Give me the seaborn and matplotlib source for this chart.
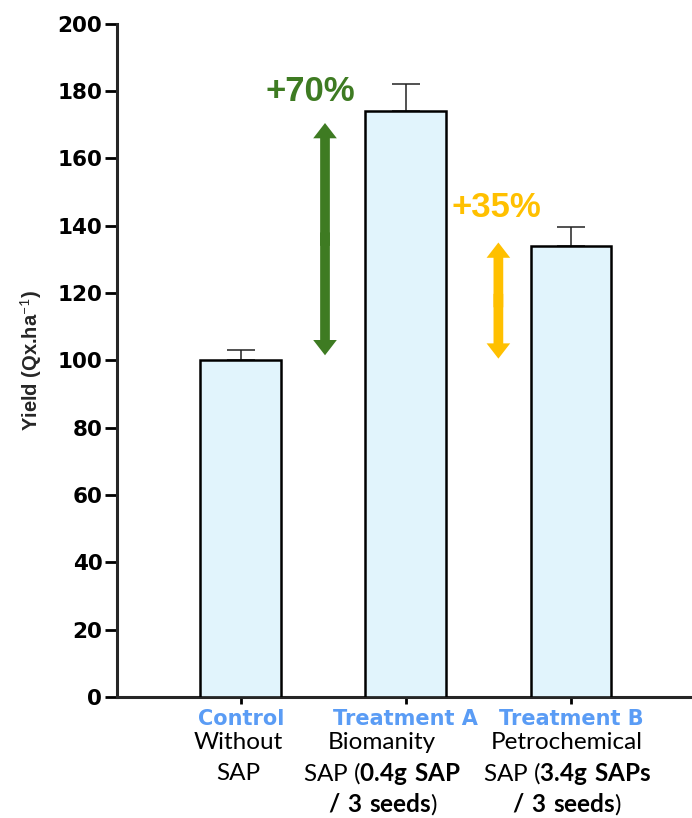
import matplotlib
matplotlib.use("Agg")
import matplotlib.pyplot as plt
from matplotlib.patches import FancyArrowPatch
import pandas as pd
import seaborn as sns

# values
groups = ["Control", "Treatment A", "Treatment B"]
yields = [100, 174, 134]
errors = [3, 8, 5.5]
line1 = ["Without", "Biomanity", "Petrochemical"]
line2 = ["SAP", r"SAP ($\mathbf{0.4g\ SAP}$", r"SAP ($\mathbf{3.4g\ SAPs}$"]
line3 = ["", r"$\mathbf{/\ 3\ seeds}$)", r"$\mathbf{/\ 3\ seeds}$)"]
yticks = [0, 20, 40, 60, 80, 100, 120, 140, 160, 180, 200]

# +x% arrows: (x, y bottom, y top, label, label x, label y, colour)
gains = [
    (0.51, 101.5, 170.5, "+70%", 0.42, 180, "#3E7B22"),
    (1.56, 100.5, 135.0, "+35%", 1.55, 145.5, "#FFC000"),
]

sns.set_theme(style="ticks")
plt.rcParams["mathtext.fontset"] = "custom"
plt.rcParams["mathtext.rm"] = "Lato"
plt.rcParams["mathtext.bf"] = "Lato:bold"

df = pd.DataFrame({"group": groups, "yield": yields})

fig = plt.figure(figsize=(6.92, 8.18), dpi=100)
ax = fig.add_axes([0.169, 0.148, 0.828, 0.823])

sns.barplot(data=df, x="group", y="yield", order=groups, width=0.49,
            color="#E1F4FC", saturation=1, edgecolor="black", linewidth=1.8,
            errorbar=None, ax=ax, zorder=3)
ax.errorbar(range(len(groups)), yields, yerr=[[0] * len(groups), errors],
            fmt="none", ecolor="#222222", elinewidth=1.1, capsize=10,
            capthick=1.1, zorder=2)

ax.set_xlim(-0.75, 2.72)
ax.set_ylim(0, 200)
ax.set_yticks(yticks)
ax.set_yticklabels([str(t) for t in yticks], fontfamily="DejaVu Sans",
                   fontweight="bold", fontsize=15.5)
ax.set_xticks(range(len(groups)))
ax.set_xticklabels([])
ax.set_xlabel("")
ax.set_ylabel("Yield (Qx.ha$^{-1}$)", fontweight="bold", fontsize=14.5,
              labelpad=10)
ax.yaxis.label.set_fontfamily(["Liberation Sans Narrow", "Liberation Sans"])

ax.tick_params(axis="y", length=9, width=2, pad=1.5, colors="black")
ax.tick_params(axis="x", length=5, width=2, colors="black")
sns.despine(ax=ax)
ax.spines["left"].set_linewidth(2.2)
ax.spines["bottom"].set_linewidth(2.2)

# category labels under the axis (black blocks sit a little left of the tick)
shift = [-2, -17, -3]
for i, g in enumerate(groups):
    ax.annotate(g, xy=(i, 0), xycoords=("data", "axes fraction"),
                xytext=(0, -16), textcoords="offset points",
                ha="center", va="center", color="#5A9CF5",
                fontfamily="DejaVu Sans", fontweight="bold", fontsize=15)
    for txt, off in [(line1[i], -32.5), (line2[i], -55), (line3[i], -77)]:
        if txt:
            ax.annotate(txt, xy=(i, 0), xycoords=("data", "axes fraction"),
                        xytext=(shift[i], off), textcoords="offset points",
                        ha="center", va="center", color="black",
                        fontfamily="Lato", fontsize=17.5)

# double-headed gain arrows (two single heads overlapping at the middle)
for x, y0, y1, label, lx, ly, col in gains:
    mid = (y0 + y1) / 2
    for start, end in ((mid + 2, y0), (mid - 2, y1)):
        arr = FancyArrowPatch((x, start), (x, end),
                              arrowstyle="simple,head_length=0.55,head_width=0.85,tail_width=0.35",
                              mutation_scale=20, color=col, lw=0,
                              shrinkA=0, shrinkB=0, zorder=4)
        ax.add_patch(arr)
    ax.text(lx, ly, label, ha="center", va="center", color=col,
            fontfamily="Liberation Sans", fontweight="bold", fontsize=25)

fig.savefig("out.png", dpi=100)
